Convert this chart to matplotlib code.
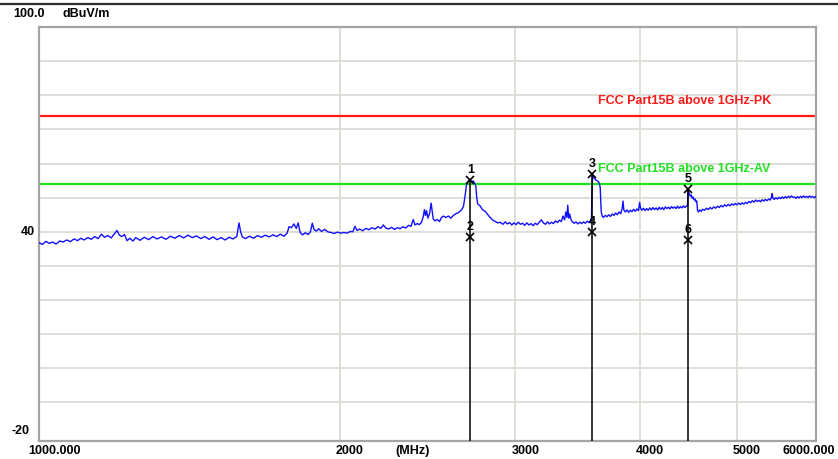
import numpy as np
import matplotlib
matplotlib.use("Agg")
import matplotlib.pyplot as plt
from matplotlib.lines import Line2D

# sweep trace (MHz, dBuV/m)
freq = [
    1000, 1008, 1016, 1024, 1032, 1040, 1049, 1057, 1066, 1075, 1084, 1093, 1101, 1110,
    1119, 1128, 1137, 1146, 1155, 1163, 1172, 1181, 1190, 1197, 1203, 1210, 1218, 1225,
    1233, 1242, 1250, 1262, 1275, 1288, 1300, 1313, 1326, 1340, 1354, 1368, 1382, 1396,
    1410, 1424, 1438, 1452, 1466, 1480, 1494, 1508, 1522, 1536, 1550, 1564, 1578, 1586,
    1592, 1598, 1610, 1625, 1640, 1655, 1670, 1685, 1700, 1715, 1730, 1745, 1760, 1772,
    1780, 1790, 1800, 1810, 1818, 1826, 1836, 1848, 1860, 1870, 1878, 1886, 1896, 1906,
    1918, 1932, 1946, 1960, 1975, 1990, 2005, 2020, 2035, 2050, 2062, 2072, 2082, 2095,
    2110, 2125, 2140, 2155, 2170, 2185, 2200, 2212, 2225, 2240, 2255, 2270, 2285, 2300,
    2315, 2330, 2345, 2358, 2370, 2380, 2392, 2404, 2416, 2426, 2432, 2438, 2444, 2452,
    2462, 2470, 2476, 2482, 2492, 2505, 2518, 2530, 2541, 2555, 2570, 2585, 2600, 2615,
    2630, 2645, 2655, 2662, 2672, 2680, 2688, 2700, 2712, 2722, 2730, 2738, 2744, 2750,
    2765, 2780, 2800, 2815, 2830, 2848, 2865, 2880, 2895,
    2915, 2930, 2945, 2960, 2975, 2990, 3005, 3020, 3035, 3050, 3065, 3080, 3095, 3110,
    3125, 3140, 3155, 3170, 3185, 3200, 3215, 3230, 3245, 3260, 3275, 3290, 3305, 3320,
    3335, 3348, 3360, 3370, 3378, 3385, 3392, 3400, 3410, 3420, 3435, 3450, 3465, 3480,
    3495, 3510, 3525, 3540, 3555, 3568, 3575, 3580, 3584, 3592, 3600, 3610, 3620, 3630,
    3640, 3648, 3656, 3664, 3675, 3690,
    3705, 3720, 3735, 3750, 3765, 3780, 3795, 3810, 3825, 3838, 3845, 3852, 3865, 3880,
    3895, 3910, 3925, 3940, 3955, 3970, 3985, 3995, 4003, 4015, 4030, 4045, 4060, 4075,
    4090, 4105, 4120, 4135, 4150, 4165, 4180, 4195, 4210, 4225, 4240, 4255, 4270, 4285,
    4300, 4315, 4330, 4345, 4360, 4375, 4390, 4405, 4420, 4435, 4450,
    4462, 4467, 4474, 4482, 4490, 4500, 4510, 4520, 4530, 4540, 4550, 4558, 4566, 4575,
    4590, 4605, 4620, 4640, 4660, 4680, 4700, 4720, 4740, 4760, 4780, 4800, 4820, 4840,
    4860, 4880, 4900, 4920, 4940, 4960, 4980, 5000, 5020, 5040, 5060, 5080, 5100, 5120,
    5140, 5160, 5180, 5200, 5220, 5240, 5260, 5280, 5300, 5320, 5340, 5360, 5380, 5400,
    5415, 5424, 5432, 5450, 5470, 5490, 5510, 5530, 5550, 5570, 5590, 5610, 5630, 5650,
    5670, 5690, 5710, 5730, 5750, 5770, 5790, 5810, 5830, 5850, 5870, 5890, 5910, 5930,
    5950, 5970, 5990, 6000,
]
level = [
    36.8, 36.3, 37.2, 36.6, 37.0, 36.4, 37.3, 37.0, 37.6, 37.1, 37.9, 37.4, 38.1, 37.6,
    38.3, 37.8, 38.6, 38.0, 39.3, 38.4, 38.9, 38.2, 39.4, 40.4, 39.1, 38.6, 39.2, 37.4,
    38.1, 37.3, 38.3, 37.5, 38.4, 37.7, 38.6, 37.9, 38.5, 37.8, 38.7, 38.1, 38.9, 38.2,
    39.0, 38.3, 38.8, 38.0, 38.6, 37.8, 38.5, 37.7, 38.3, 37.6, 38.4, 37.9, 38.6, 42.6,
    40.0, 38.5, 38.0, 38.7, 38.1, 38.9, 38.4, 39.0, 38.5, 39.1, 38.6, 39.3, 38.7, 39.6,
    41.5, 41.2, 42.3, 41.0, 42.6, 39.8, 39.1, 39.7, 39.2, 40.0, 42.5, 40.6, 40.2, 40.9,
    40.1, 40.7, 40.0, 39.8, 39.5, 39.9, 39.6, 39.8, 39.6, 40.1, 40.0, 41.6, 40.4, 40.8,
    40.3, 41.0, 40.6, 41.2, 40.8, 41.5, 41.0, 42.0, 41.1, 40.8, 41.3, 40.7, 41.2, 40.9,
    41.5, 41.1, 41.9, 41.6, 43.6, 42.0, 42.4, 42.1, 42.8, 44.5, 46.5, 44.8, 46.2, 44.0,
    45.5, 48.4, 46.0, 43.8, 43.2, 43.6, 43.0, 44.2, 44.6, 44.2, 44.6, 44.0, 44.8, 45.3,
    45.6, 46.2, 46.8, 47.6, 50.8, 53.8, 54.8, 55.0, 54.6, 54.9, 54.3, 53.5, 50.0, 48.2,
    47.6, 46.5, 45.9, 45.0, 44.2, 43.4, 43.0, 42.6, 42.8,
    42.2, 42.9, 42.3, 42.7, 42.0, 42.6, 42.1, 42.8, 42.2, 42.5, 41.9, 42.6, 42.0, 42.4,
    41.8, 42.5, 42.1, 42.8, 43.5, 42.6, 42.2, 42.9, 42.3, 42.8, 42.4, 43.2, 42.7, 43.4,
    43.0, 44.6, 43.5, 45.8, 44.2, 47.8, 44.0, 45.2, 43.6, 43.0, 42.5, 42.9, 42.3, 42.8,
    42.4, 42.9, 42.5, 43.1, 42.7, 43.4, 44.0, 52.0, 56.2, 56.0, 55.6, 55.2, 55.0, 54.8,
    54.2, 53.0, 46.0, 44.6, 44.2, 44.8,
    44.4, 45.0, 44.5, 45.2, 44.8, 45.5, 45.0, 45.8, 45.3, 47.0, 49.0, 46.4, 45.8, 46.4,
    45.7, 46.3, 45.9, 46.6, 46.0, 46.7, 46.2, 48.6, 47.0, 46.3, 46.9, 46.2, 46.8, 46.3,
    47.0, 46.4, 47.1, 46.5, 47.0, 46.4, 47.2, 46.6, 47.1, 46.5, 47.3, 46.8, 47.2, 46.7,
    47.4, 46.9, 47.3, 46.8, 47.5, 46.9, 47.4, 47.0, 47.6, 47.1, 47.5,
    47.8, 52.4, 51.6, 51.0, 50.4, 50.8, 49.8, 50.2, 49.3, 49.6, 48.8, 49.0, 46.2, 45.8,
    46.4, 46.0, 46.6, 46.3, 46.9, 46.5, 47.1, 46.7, 47.3, 46.9, 47.5, 47.1, 47.7, 47.3,
    47.9, 47.5, 48.0, 47.6, 48.2, 47.8, 48.3, 47.9, 48.4, 48.0, 48.5, 48.1, 48.6, 48.3,
    48.9, 48.5, 49.1, 48.7, 49.3, 48.9, 49.2, 48.8, 49.4, 49.0, 49.5, 49.1, 49.6, 49.3,
    50.2, 51.2, 49.8, 49.5, 50.0, 49.6, 50.1, 49.7, 50.2, 49.8, 50.3, 49.9, 50.4, 50.0,
    50.5, 50.1, 50.2, 49.8, 50.3, 49.9, 50.4, 50.0, 50.5, 50.1, 50.4, 50.0, 50.5, 50.1,
    50.4, 50.0, 50.3, 50.1,
]

# markers
marker_freq = [2704, 2704, 3583, 3583, 4469, 4469]
marker_level = [55.2, 38.4, 56.9, 39.8, 52.5, 37.6]
marker_ids = ["1", "2", "3", "4", "5", "6"]

# limit lines
limit_names = ["FCC Part15B above 1GHz-PK", "FCC Part15B above 1GHz-AV"]
limit_levels = [74, 54]
limit_colors = ["#ff1a1a", "#22e022"]
limit_label_freq = 3630

x_ticks = [1000, 2000, 3000, 4000, 5000, 6000]
x_ticklabels = ["1000.000", "2000", "3000", "4000", "5000", "6000.000"]
y_min, y_max = -21.3, 100

FONT = dict(family="Liberation Sans", fontweight="bold", fontsize=9)


def main():
    fig = plt.figure(figsize=(8.38, 4.59), dpi=100)
    ax = fig.add_axes([39 / 838, 18 / 459, 777 / 838, 414 / 459])

    ax.set_xscale("log")
    ax.set_xlim(1000, 6000)
    ax.set_ylim(y_min, y_max)
    ax.set_xticks([2000, 3000, 4000, 5000])
    ax.set_xticks([], minor=True)
    ax.set_yticks(np.arange(-10, 100, 10))
    ax.tick_params(length=0, labelbottom=False, labelleft=False, which="both")
    ax.grid(True, color="#dcdcd6", lw=1.3)
    ax.set_axisbelow(True)
    for sp in ax.spines.values():
        sp.set_color("#a4a4a4")
        sp.set_linewidth(1.6)

    # limit lines + names
    for name, lv, c in zip(limit_names, limit_levels, limit_colors):
        ax.axhline(lv, color=c, lw=1.6, zorder=2)
        ax.annotate(name, (limit_label_freq, lv), xytext=(0, 15),
                    textcoords="offset pixels", color=c, ha="left", va="center",
                    zorder=5, **FONT)

    ax.plot(freq, level, color="#1010ff", lw=1.0, zorder=3)

    # marker drop lines
    for i in range(0, len(marker_freq), 2):
        ax.vlines(marker_freq[i], y_min, marker_level[i], color="black", lw=1.1, zorder=4)
    ax.plot(marker_freq, marker_level, "x", color="black", ms=6, mew=1.2, zorder=5)
    for f, lv, t in zip(marker_freq, marker_level, marker_ids):
        ax.annotate(t, (f, lv), xytext=(0, 10), textcoords="offset pixels",
                    ha="center", va="center", zorder=6, **FONT)

    # axis labels written the way the receiver software does it
    tr = ax.get_xaxis_transform()
    for f, lab in zip(x_ticks, x_ticklabels):
        if lab == "1000.000":
            ax.annotate(lab, (f, 0), xycoords=tr, xytext=(-11, -10),
                        textcoords="offset pixels", ha="left", va="center",
                        annotation_clip=False, **FONT)
        elif lab == "6000.000":
            ax.annotate(lab, (f, 0), xycoords=tr, xytext=(19, -10),
                        textcoords="offset pixels", ha="right", va="center",
                        annotation_clip=False, **FONT)
        else:
            ax.annotate(lab, (f, 0), xycoords=tr, xytext=(-4, -10),
                        textcoords="offset pixels", ha="left", va="center",
                        annotation_clip=False, **FONT)
    ax.text(0.481, -10 / 414, "(MHz)", transform=ax.transAxes, ha="center",
            va="center", **FONT)

    ytr = ax.get_yaxis_transform()
    ax.annotate("40", (0, 40), xycoords=ytr, xytext=(-4, 0), textcoords="offset pixels",
                ha="right", va="center", annotation_clip=False, **FONT)
    ax.annotate("-20", (0, -20), xycoords=ytr, xytext=(-10, 6), textcoords="offset pixels",
                ha="right", va="center", annotation_clip=False, **FONT)
    fig.text(45 / 838, 1 - 14 / 459, "100.0", ha="right", va="center", **FONT)
    fig.text(62 / 838, 1 - 14 / 459, "dBuV/m", ha="left", va="center", **FONT)

    # dark rule across the top of the window
    fig.add_artist(Line2D([0, 1], [1 - 4 / 459, 1 - 4 / 459], color="#303030", lw=1.6))

    fig.savefig("out.png", dpi=100)


if __name__ == "__main__":
    main()
